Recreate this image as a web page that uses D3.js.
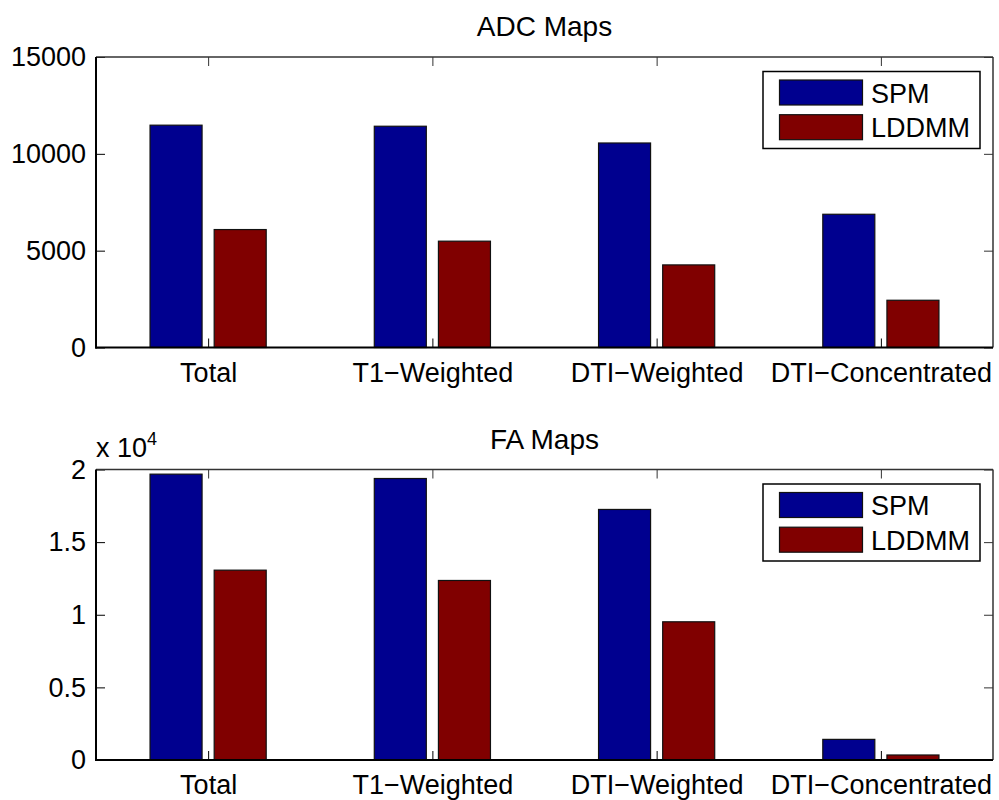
<!DOCTYPE html>
<html>
<head>
<meta charset="utf-8">
<script src="https://cdn.jsdelivr.net/npm/d3@7"></script>
<style>
  html, body { margin: 0; padding: 0; background: #fff; }
  svg { display: block; }
  text { font-family: "Liberation Sans", Arial, Helvetica, sans-serif; fill: #000; }
</style>
</head>
<body>
<svg id="chart" width="999" height="800"></svg>
<script>
// Region categories shared by both panels
const categories = ["Total", "T1\u2212Weighted", "DTI\u2212Weighted", "DTI\u2212Concentrated"];
const seriesNames = ["SPM", "LDDMM"];

// ADC maps: counts per method
const adcSPM   = [11480, 11425, 10560, 6880];
const adcLDDMM = [6090, 5490, 4265, 2440];

// FA maps: counts per method
const faSPM   = [19680, 19380, 17250, 1420];
const faLDDMM = [13070, 12360, 9515, 345];

// Tick values
const adcTicks = [0, 5000, 10000, 15000];
const faTicks  = [0, 5000, 10000, 15000, 20000];

const colors = ["#00008F", "#800000"];
const fontSize = 27;
const titleSize = 28;

const svg = d3.select("#chart");

function drawPanel(opts) {
  const { left, right, top, bottom, title, series, ticks, yMax, tickFormat, exponent } = opts;
  const g = svg.append("g");

  const x = d3.scaleLinear().domain([0.5, categories.length + 0.5]).range([left, right]);
  const y = d3.scaleLinear().domain([0, yMax]).range([bottom, top]);

  // Bars: two per category, centred on the category tick
  const barW = 0.232, gap = 0.054;
  series.forEach((vals, s) => {
    g.append("g").selectAll("rect")
      .data(vals)
      .join("rect")
      .attr("x", (d, i) => s === 0 ? x(i + 1 - gap / 2 - barW) : x(i + 1 + gap / 2))
      .attr("width", x(1 + barW) - x(1))
      .attr("y", d => y(d))
      .attr("height", d => y(0) - y(d))
      .attr("fill", colors[s])
      .attr("stroke", "#111")
      .attr("stroke-width", 1.2);
  });

  // Left axis with inward ticks
  const yAxis = d3.axisLeft(y).tickValues(ticks).tickSize(-9).tickSizeOuter(0)
    .tickPadding(10).tickFormat(tickFormat);
  const ya = g.append("g").attr("transform", `translate(${left},0)`).call(yAxis);
  ya.select(".domain").remove();
  ya.selectAll("line").attr("stroke", "#000").attr("stroke-width", 1);
  ya.selectAll("text").style("font-size", fontSize + "px").attr("fill", "#000");

  // Right-side mirrored ticks
  const yAxisR = d3.axisRight(y).tickValues(ticks).tickSize(-9).tickSizeOuter(0).tickFormat("");
  const yr = g.append("g").attr("transform", `translate(${right},0)`).call(yAxisR);
  yr.select(".domain").remove();
  yr.selectAll("line").attr("stroke", "#333").attr("stroke-width", 1);

  // Bottom axis with category labels
  const xAxis = d3.axisBottom(x).tickValues(d3.range(1, categories.length + 1))
    .tickSize(-9).tickSizeOuter(0).tickPadding(15)
    .tickFormat(d => categories[d - 1]);
  const xa = g.append("g").attr("transform", `translate(0,${bottom})`).call(xAxis);
  xa.select(".domain").remove();
  xa.selectAll("line").attr("stroke", "#000").attr("stroke-width", 1);
  xa.selectAll("text").style("font-size", fontSize + "px").attr("fill", "#000");

  // Top mirrored ticks
  const xAxisT = d3.axisTop(x).tickValues(d3.range(1, categories.length + 1))
    .tickSize(-9).tickSizeOuter(0).tickFormat("");
  const xt = g.append("g").attr("transform", `translate(0,${top})`).call(xAxisT);
  xt.select(".domain").remove();
  xt.selectAll("line").attr("stroke", "#333").attr("stroke-width", 1);

  // Box: heavier left/bottom, lighter top/right
  g.append("line").attr("x1", left).attr("x2", right).attr("y1", top).attr("y2", top)
    .attr("stroke", "#333").attr("stroke-width", 1.5);
  g.append("line").attr("x1", right).attr("x2", right).attr("y1", top).attr("y2", bottom)
    .attr("stroke", "#333").attr("stroke-width", 1.5);
  g.append("line").attr("x1", left).attr("x2", left).attr("y1", top).attr("y2", bottom + 1)
    .attr("stroke", "#000").attr("stroke-width", 2);
  g.append("line").attr("x1", left - 1).attr("x2", right).attr("y1", bottom).attr("y2", bottom)
    .attr("stroke", "#000").attr("stroke-width", 2);

  // Title
  g.append("text").attr("x", (left + right) / 2).attr("y", top - 21)
    .attr("text-anchor", "middle").style("font-size", titleSize + "px").text(title);

  // Exponent label
  if (exponent) {
    const t = g.append("text").attr("x", left).attr("y", top - 13).style("font-size", fontSize + "px");
    t.append("tspan").text("x 10");
    t.append("tspan").attr("dy", -12).style("font-size", "18px").text(exponent);
  }

  // Legend
  const lx = right - 230, ly = top + 14.5;
  const lg = g.append("g").attr("transform", `translate(${lx},${ly})`);
  lg.append("rect").attr("x", 0).attr("y", 0).attr("width", 217).attr("height", 77)
    .attr("fill", "#fff").attr("stroke", "#000").attr("stroke-width", 1.5);
  seriesNames.forEach((name, s) => {
    lg.append("rect").attr("x", 16.5).attr("y", 8.5 + s * 34.7).attr("width", 83).attr("height", 25)
      .attr("fill", colors[s]).attr("stroke", "#111").attr("stroke-width", 1.2);
    lg.append("text").attr("x", 108).attr("y", 31 + s * 34.5)
      .style("font-size", fontSize + "px").text(name);
  });
}

drawPanel({
  left: 96, right: 993, top: 57, bottom: 347.5,
  title: "ADC Maps",
  series: [adcSPM, adcLDDMM],
  ticks: adcTicks, yMax: 15000,
  tickFormat: d => String(d)
});

drawPanel({
  left: 96, right: 993, top: 469.5, bottom: 760,
  title: "FA Maps",
  series: [faSPM, faLDDMM],
  ticks: faTicks, yMax: 20000,
  tickFormat: d => String(d / 10000),
  exponent: "4"
});
</script>
</body>
</html>
